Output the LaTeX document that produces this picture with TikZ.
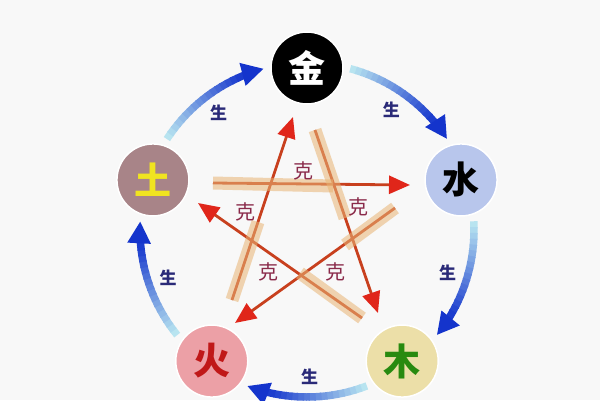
\documentclass[tikz,border=0pt]{standalone}
\usepackage{fontspec}
\newfontfamily\cjk{Noto Sans CJK SC}
\usetikzlibrary{calc,arrows.meta}

\definecolor{bgcol}{HTML}{F8F8F8}
\definecolor{tailcyan}{HTML}{B8E4F0}
\definecolor{headblue}{HTML}{1434CC}
\definecolor{shengcol}{HTML}{2A2A78}
\definecolor{kecol}{HTML}{8A2A4A}
\definecolor{kered}{HTML}{C8401E}
\definecolor{kehead}{HTML}{E0261A}
\definecolor{beige}{HTML}{E8B474}

\begin{document}
\begin{tikzpicture}[x=1pt,y=-1pt,
    element/.style={circle, minimum size=72pt, inner sep=0pt, draw=white, line width=1.5pt,
                    font=\cjk\bfseries\fontsize{37}{37}\selectfont},
    sheng/.style={font=\cjk\bfseries\fontsize{17}{17}\selectfont, text=shengcol},
    ke/.style={font=\cjk\fontsize{20}{20}\selectfont, text=kecol},
    kearrow/.style={draw=kered, line width=2.8pt, -{Triangle[length=21pt,width=18pt,color=kehead]}},
    keband/.style={draw=beige, line width=13pt, opacity=0.55}
  ]
    % Background (fixes the picture size)
    \fill[bgcol] (0,0) rectangle (600,400);
    \useasboundingbox (0,0) rectangle (600,400);
    % Centre of the cycle
    \coordinate (c) at (307,230);
    % Blue "sheng" arcs, light at the tail and dark at the head
    \foreach \a in {198,-90,-18,54,126} {
      \foreach \k in {0,...,15} {
        \pgfmathsetmacro\s{\a+15+\k*2}
        \pgfmathsetmacro\e{\s+2.5}
        \pgfmathsetmacro\p{\k*6}
        \draw[headblue!\p!tailcyan, line width=7.5pt]
          ($(c)+(\s:167)$) arc[start angle=\s, end angle=\e, radius=167];
      }
      \draw[headblue!95!tailcyan, line width=7.5pt, -{Triangle[length=22pt,width=22pt,color=headblue]}]
        ($(c)+(\a+47:167)$) arc[start angle=\a+47, end angle=\a+57, radius=167];
      \node[sheng] at ($(c)+(\a+35:147)$) {生};
    }
    % End points of the "ke" arrows (tail, end of the band, head)
    \coordinate (huo-ke)  at (232,300);
    \coordinate (huo-band) at (258,222);
    \coordinate (jin-ke)  at (293,117);
    \coordinate (jin-ke2) at (315,130);
    \coordinate (jin-band) at (345,218);
    \coordinate (mu-ke)   at (378,313);
    \coordinate (tu-ke)   at (213,183);
    \coordinate (tu-band) at (333,186);
    \coordinate (shui-ke) at (410,185);
    \coordinate (mu-ke2)  at (362,318);
    \coordinate (mu-band) at (300,273);
    \coordinate (tu-ke2)  at (198,203);
    \coordinate (shui-ke2) at (395,208);
    \coordinate (shui-band) at (345,245);
    \coordinate (huo-ke2) at (235,323);
    % Red "ke" arrows of the star
    \draw[kearrow] (huo-ke) -- (jin-ke);
    \draw[kearrow] (jin-ke2) -- (mu-ke);
    \draw[kearrow] (tu-ke) -- (shui-ke);
    \draw[kearrow] (mu-ke2) -- (tu-ke2);
    \draw[kearrow] (shui-ke2) -- (huo-ke2);
    % Beige bands over the tails
    \draw[keband] (huo-ke) -- (huo-band);
    \draw[keband] (jin-ke2) -- (jin-band);
    \draw[keband] (tu-ke) -- (tu-band);
    \draw[keband] (mu-ke2) -- (mu-band);
    \draw[keband] (shui-ke2) -- (shui-band);
    % "ke" labels
    \node[ke] (ke-top)   at (303,171) {克};
    \node[ke] (ke-left)  at (245,212) {克};
    \node[ke] (ke-right) at (358,207) {克};
    \node[ke] (ke-bl)    at (268,272) {克};
    \node[ke] (ke-br)    at (335,272) {克};
    % The five elements
    \node[element, fill=black, text=white]                      (jin)  at ($(c)+(-90:162)$) {金};
    \node[element, fill={rgb,255:red,184;green,198;blue,236}, text=black] (shui) at ($(c)+(-18:162)$) {水};
    \node[element, fill={rgb,255:red,236;green,223;blue,168}, text={rgb,255:red,40;green,138;blue,16}] (mu) at ($(c)+(54:162)$) {木};
    \node[element, fill={rgb,255:red,236;green,160;blue,166}, text={rgb,255:red,192;green,24;blue,24}] (huo) at ($(c)+(126:162)$) {火};
    \node[element, fill={rgb,255:red,168;green,132;blue,136}, text={rgb,255:red,240;green,228;blue,32}] (tu) at ($(c)+(198:162)$) {土};
\end{tikzpicture}
\end{document}
